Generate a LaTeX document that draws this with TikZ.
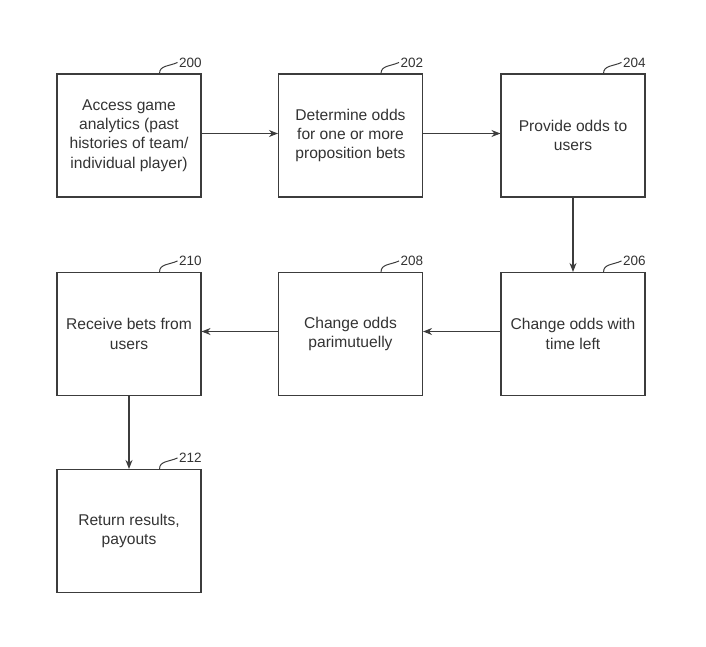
\documentclass[tikz,border=0pt]{standalone}
\usepackage{fontspec}
\setmainfont{Liberation Sans}
\usetikzlibrary{arrows.meta}
\definecolor{ink}{HTML}{333333}
\definecolor{edge}{HTML}{3C3C3C}
\tikzset{
  stepbox/.style={draw=edge, line width=1.1pt, minimum width=144pt, minimum height=123pt,
    inner sep=2pt, align=center, text=ink, font=\fontsize{15.6}{19.3}\selectfont},
  arr/.style={draw=edge, line width=1.1pt, -{Stealth[length=9pt,width=7pt]}},
  leader/.style={draw=edge, line width=1pt},
  reflabel/.style={anchor=west, inner sep=1pt, text=ink, font=\fontsize{13.5}{14}\selectfont}
}
\begin{document}
\begin{tikzpicture}[x=1pt,y=-1pt]
\useasboundingbox (0,0) rectangle (706,646);
\node[stepbox] (b200) at (129,135.5) {Access game\\analytics (past\\histories of team/\\individual player)};
\node[stepbox] (b202) at (350.5,135.5) {Determine odds\\for one or more\\proposition bets};
\node[stepbox] (b204) at (573,135.5) {Provide odds to\\users};
\node[stepbox] (b206) at (573,334) {Change odds with\\time left};
\node[stepbox] (b208) at (350.5,334) {Change odds\\parimutuelly};
\node[stepbox] (b210) at (129,334) {Receive bets from\\users};
\node[stepbox] (b212) at (129,531) {Return results,\\payouts};

\foreach \n/\t in {b200/200,b202/202,b204/204,b206/206,b208/208,b210/210,b212/212}{
  \draw[leader] ([xshift=-42pt]\n.north east) .. controls +(0,-8) and +(-9,4) .. ([xshift=-24pt,yshift=11pt]\n.north east)
    node[reflabel] (l\t) {\t};
}

\draw[arr] ([yshift=2pt]b200.east) -- ([yshift=2pt]b202.west);
\draw[arr] ([yshift=2pt]b202.east) -- ([yshift=2pt]b204.west);
\draw[arr] (b204.south) -- (b206.north);
\draw[arr] ([yshift=2.5pt]b206.west) -- ([yshift=2.5pt]b208.east);
\draw[arr] ([yshift=2.5pt]b208.west) -- ([yshift=2.5pt]b210.east);
\draw[arr] (b210.south) -- (b212.north);
\end{tikzpicture}
\end{document}
